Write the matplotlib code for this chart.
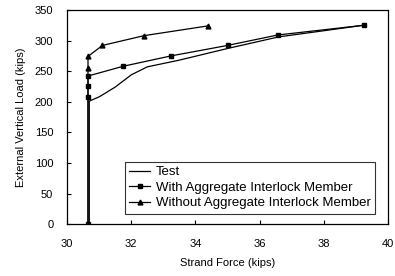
import matplotlib
matplotlib.use("Agg")
import matplotlib.pyplot as plt

plt.rcParams["font.family"] = ["Liberation Sans", "DejaVu Sans"]

# Curva de ensayo
test_x = [30.69, 30.69, 31.0, 31.5, 32.0, 32.5, 33.5, 35.0, 36.6, 38.0, 39.25]
test_y = [0, 201, 208, 224, 244, 257, 268, 287, 306, 316, 325]

# Con miembro de trabazon de agregado
with_x = [30.65, 30.65, 30.65, 30.65, 31.75, 33.25, 35.0, 36.56, 39.25]
with_y = [0, 208, 225, 242, 258, 275, 292, 309, 325]

# Sin miembro de trabazon de agregado
without_x = [30.65, 30.65, 30.65, 31.1, 32.4, 34.4]
without_y = [0, 255, 274, 292, 308, 324]

fig, ax = plt.subplots(figsize=(3.95, 2.76), dpi=100)
fig.subplots_adjust(left=0.17, right=0.982, top=0.964, bottom=0.188)

ax.plot(test_x, test_y, color="black", lw=0.9, label="Test")
ax.plot(with_x, with_y, color="black", lw=0.9, marker="s", ms=3.5,
        label="With Aggregate Interlock Member")
ax.plot(without_x, without_y, color="black", lw=0.9, marker="^", ms=3.5,
        label="Without Aggregate Interlock Member")

ax.set_xlim(30, 40)
ax.set_ylim(0, 350)
ax.set_xticks([30, 32, 34, 36, 38, 40])
ax.set_yticks(range(0, 351, 50))
ax.tick_params(direction="in", labelsize=8, length=3, width=0.8)
ax.tick_params(axis="x", pad=11)
ax.tick_params(axis="y", pad=10)
for s in ax.spines.values():
    s.set_linewidth(0.9)

ax.set_xlabel("Strand Force (kips)", fontsize=8, labelpad=6)
ax.set_ylabel("External Vertical Load (kips)", fontsize=8, labelpad=6)

leg = ax.legend(loc="lower right", bbox_to_anchor=(0.96, 0.047), fontsize=9.5,
                frameon=True, fancybox=False, edgecolor="black",
                handlelength=1.6, borderpad=0.35, labelspacing=0.25,
                handletextpad=0.4, borderaxespad=0)
leg.get_frame().set_linewidth(0.8)

plt.savefig("out.png", dpi=100)
